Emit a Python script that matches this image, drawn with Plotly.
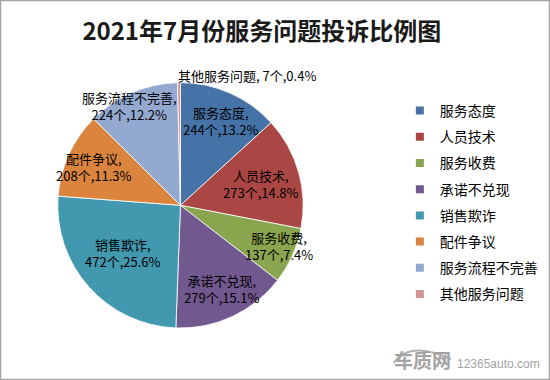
import math
import plotly.graph_objects as go

title = "2021年7月份服务问题投诉比例图"
categories = ["服务态度", "人员技术", "服务收费", "承诺不兑现", "销售欺诈", "配件争议", "服务流程不完善", "其他服务问题"]
counts = [244, 273, 137, 279, 472, 208, 224, 7]
percent_labels = ["13.2%", "14.8%", "7.4%", "15.1%", "25.6%", "11.3%", "12.2%", "0.4%"]
colors = ["#4572A7", "#AA4643", "#89A54E", "#71588F", "#4198AF", "#DB843D", "#93A9CF", "#D19392"]

font_cjk = "Noto Sans CJK SC, Microsoft YaHei, sans-serif"
W, H = 550, 380

# pie placement (paper fractions)
dom_x = [0.1035, 0.5527]
dom_y = [0.1368, 0.7826]

# label placement relative to each slice: (radius fraction, angle nudge in degrees)
label_place = [(0.76, 1.8), (0.68, 0.8), (0.87, -2.1), (0.76, -1.3), (0.61, 2.2), (0.77, -0.7), (0.91, -3.7), (1.19, 28.0)]
single_line = [False] * 7 + [True]

fig = go.Figure()
fig.add_trace(go.Pie(
    labels=categories,
    values=counts,
    textinfo="none",
    sort=False,
    direction="clockwise",
    rotation=0,
    marker=dict(colors=colors, line=dict(color="white", width=0.8)),
    domain=dict(x=dom_x, y=dom_y),
    showlegend=False,
    hoverinfo="label+value+percent",
))

# legend entries (one per category, so spacing can match)
for i, (c, col) in enumerate(zip(categories, colors)):
    fig.add_trace(go.Scatter(
        x=[None], y=[None], mode="markers", name=c, legendgroup=c,
        marker=dict(symbol="square", size=8, color=col),
    ))

# labels computed from the slice angles
px0, px1 = dom_x[0] * W, dom_x[1] * W
py0, py1 = (1 - dom_y[1]) * H, (1 - dom_y[0]) * H
cx, cy = (px0 + px1) / 2, (py0 + py1) / 2
R = min(px1 - px0, py1 - py0) / 2
total = sum(counts)
cum = 0
annotations = []
for i, (c, v, p) in enumerate(zip(categories, counts, percent_labels)):
    mid = (cum + v / 2) / total * 360
    cum += v
    f, nudge = label_place[i]
    a = math.radians(mid + nudge)
    lx = cx + f * R * math.sin(a)
    ly = cy - f * R * math.cos(a)
    sep = " " if single_line[i] else "<br>"
    annotations.append(dict(
        text=f"{c},{sep}{v}个,{p}", x=lx / W, y=1 - ly / H, xref="paper", yref="paper",
        xanchor="center", yanchor="middle", showarrow=False, align="center",
        font=dict(family=font_cjk, size=13, color="black"),
    ))

annotations += [
    dict(text="<b>车质网</b>", x=0.823, y=0.012, xref="paper", yref="paper", xanchor="right", yanchor="bottom",
         showarrow=False, font=dict(family=font_cjk, size=19, color="#a3a3a3")),
    dict(text="12365auto.com", x=0.828, y=0.018, xref="paper", yref="paper", xanchor="left", yanchor="bottom",
         showarrow=False, font=dict(family="Liberation Sans, Arial", size=12, color="#a3a3a3")),
]

fig.update_layout(
    width=W, height=H,
    margin=dict(l=0, r=0, t=0, b=0),
    paper_bgcolor="white",
    plot_bgcolor="white",
    xaxis=dict(visible=False),
    yaxis=dict(visible=False),
    title=dict(text="<b>" + title + "</b>", x=0.476, xanchor="center", y=0.917, yanchor="middle",
               font=dict(family=font_cjk, size=24, color="#1a1a1a")),
    legend=dict(x=0.727, y=0.75, xanchor="left", yanchor="top", traceorder="grouped", tracegroupgap=5,
                font=dict(family=font_cjk, size=14, color="black"),
                bgcolor="rgba(0,0,0,0)"),
    shapes=[
        dict(type="rect", xref="paper", yref="paper", x0=0.001, y0=0.001, x1=0.999, y1=0.999,
             line=dict(color="#A6A6A6", width=1.5)),
        dict(type="path", xref="paper", yref="paper",
             path="M 0.716,0.045 Q 0.745,0.105 0.82,0.055",
             line=dict(color="#b3b3b3", width=2)),
    ],
    annotations=annotations,
)

fig.write_html("out.html", config={"displayModeBar": False},
               post_script="document.body.style.margin='0';document.body.style.overflow='hidden';")
